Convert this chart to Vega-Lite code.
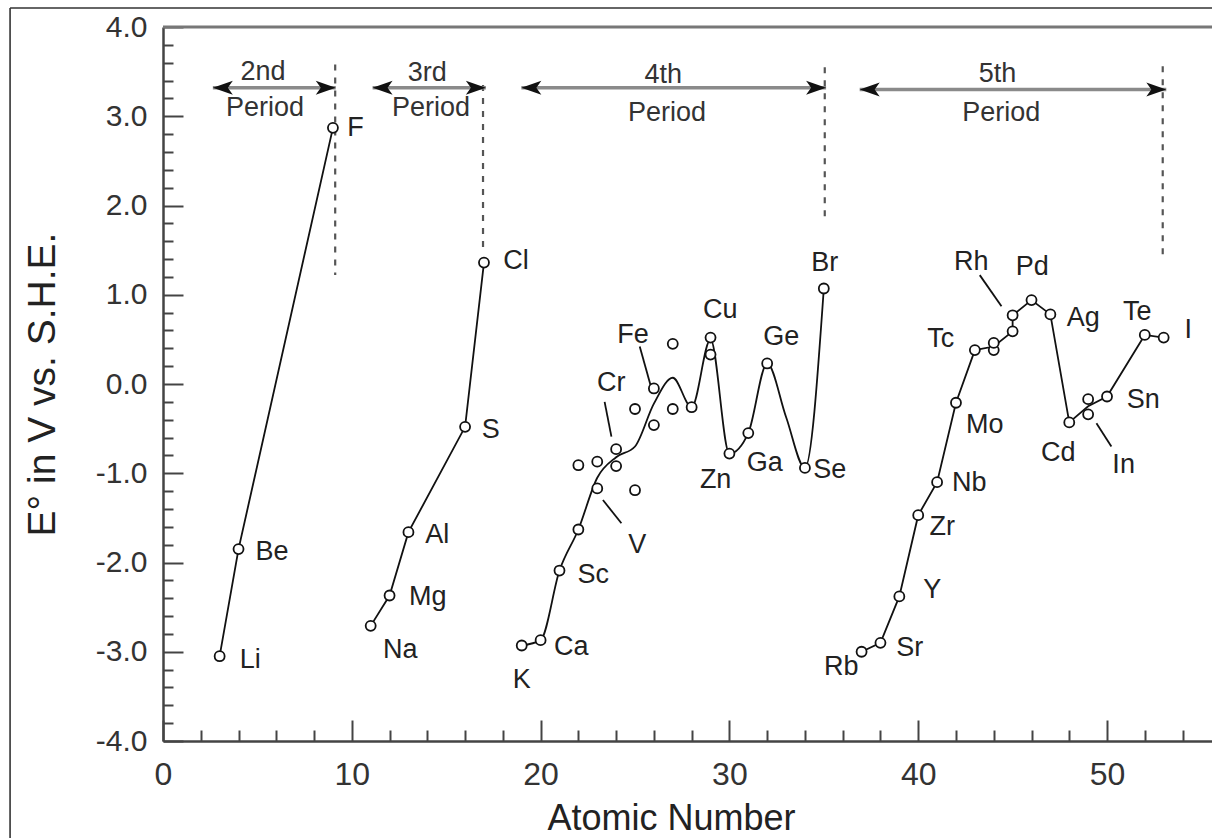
{
  "$schema": "https://vega.github.io/schema/vega-lite/v6.json",
  "width": 1049,
  "height": 714,
  "autosize": {"type": "none"},
  "padding": {"left": 163, "top": 27, "right": 0, "bottom": 97},
  "background": "white",
  "config": {
    "view": {"stroke": null},
    "font": "Liberation Sans",
    "axis": {"grid": false, "labelFont": "Liberation Sans", "titleFont": "Liberation Sans"}
  },
  "datasets": {
    "curve": [
      {"period": 2, "i": 1, "z": 3, "e": -3.05},
      {"period": 2, "i": 2, "z": 4, "e": -1.85},
      {"period": 2, "i": 3, "z": 9, "e": 2.87},
      {"period": 3, "i": 1, "z": 11, "e": -2.71},
      {"period": 3, "i": 2, "z": 12, "e": -2.37},
      {"period": 3, "i": 3, "z": 13, "e": -1.66},
      {"period": 3, "i": 4, "z": 16, "e": -0.48},
      {"period": 3, "i": 5, "z": 17, "e": 1.36},
      {"period": 4, "i": 1, "z": 19, "e": -2.93},
      {"period": 4, "i": 2, "z": 20, "e": -2.87},
      {"period": 4, "i": 3, "z": 21, "e": -2.09},
      {"period": 4, "i": 4, "z": 22, "e": -1.63},
      {"period": 4, "i": 5, "z": 23, "e": -1.05},
      {"period": 4, "i": 6, "z": 24, "e": -0.82},
      {"period": 4, "i": 7, "z": 25, "e": -0.7},
      {"period": 4, "i": 8, "z": 26, "e": -0.22},
      {"period": 4, "i": 9, "z": 27, "e": 0.07},
      {"period": 4, "i": 10, "z": 28, "e": -0.26},
      {"period": 4, "i": 11, "z": 29, "e": 0.5},
      {"period": 4, "i": 12, "z": 30, "e": -0.78},
      {"period": 4, "i": 13, "z": 31, "e": -0.55},
      {"period": 4, "i": 14, "z": 32, "e": 0.23},
      {"period": 4, "i": 15, "z": 33, "e": -0.37},
      {"period": 4, "i": 16, "z": 34, "e": -0.94},
      {"period": 4, "i": 17, "z": 35, "e": 1.07},
      {"period": 5, "i": 1, "z": 37, "e": -3.0},
      {"period": 5, "i": 2, "z": 38, "e": -2.9},
      {"period": 5, "i": 3, "z": 39, "e": -2.38},
      {"period": 5, "i": 4, "z": 40, "e": -1.47},
      {"period": 5, "i": 5, "z": 41, "e": -1.1},
      {"period": 5, "i": 6, "z": 42, "e": -0.21},
      {"period": 5, "i": 7, "z": 43, "e": 0.38},
      {"period": 5, "i": 8, "z": 44, "e": 0.42},
      {"period": 5, "i": 9, "z": 45, "e": 0.59},
      {"period": 5, "i": 10, "z": 45, "e": 0.77},
      {"period": 5, "i": 11, "z": 46, "e": 0.94},
      {"period": 5, "i": 12, "z": 47, "e": 0.78},
      {"period": 5, "i": 13, "z": 48, "e": -0.43},
      {"period": 5, "i": 14, "z": 49, "e": -0.25},
      {"period": 5, "i": 15, "z": 50, "e": -0.14},
      {"period": 5, "i": 16, "z": 52, "e": 0.55},
      {"period": 5, "i": 17, "z": 53, "e": 0.52}
    ],
    "points": [
      {"z": 3, "e": -3.05}, {"z": 4, "e": -1.85}, {"z": 9, "e": 2.87},
      {"z": 11, "e": -2.71}, {"z": 12, "e": -2.37}, {"z": 13, "e": -1.66}, {"z": 16, "e": -0.48}, {"z": 17, "e": 1.36},
      {"z": 19, "e": -2.93}, {"z": 20, "e": -2.87}, {"z": 21, "e": -2.09}, {"z": 22, "e": -1.63}, {"z": 22, "e": -0.91},
      {"z": 23, "e": -0.87}, {"z": 23, "e": -1.17}, {"z": 24, "e": -0.73}, {"z": 24, "e": -0.92},
      {"z": 25, "e": -1.19}, {"z": 25, "e": -0.28}, {"z": 26, "e": -0.46}, {"z": 26, "e": -0.05},
      {"z": 27, "e": -0.28}, {"z": 27, "e": 0.45}, {"z": 28, "e": -0.26}, {"z": 29, "e": 0.52}, {"z": 29, "e": 0.33},
      {"z": 30, "e": -0.78}, {"z": 31, "e": -0.55}, {"z": 32, "e": 0.23}, {"z": 34, "e": -0.94}, {"z": 35, "e": 1.07},
      {"z": 37, "e": -3.0}, {"z": 38, "e": -2.9}, {"z": 39, "e": -2.38}, {"z": 40, "e": -1.47}, {"z": 41, "e": -1.1},
      {"z": 42, "e": -0.21}, {"z": 43, "e": 0.38}, {"z": 44, "e": 0.38}, {"z": 44, "e": 0.46}, {"z": 45, "e": 0.59},
      {"z": 45, "e": 0.77}, {"z": 46, "e": 0.94}, {"z": 47, "e": 0.78}, {"z": 48, "e": -0.43}, {"z": 49, "e": -0.34},
      {"z": 49, "e": -0.17}, {"z": 50, "e": -0.14}, {"z": 52, "e": 0.55}, {"z": 53, "e": 0.52}
    ],
    "labels": [
      {"sym": "Li", "z": 4.62, "e": -3.09}, {"sym": "Be", "z": 5.78, "e": -1.88}, {"sym": "F", "z": 10.2, "e": 2.87},
      {"sym": "Na", "z": 12.56, "e": -2.98}, {"sym": "Mg", "z": 14.02, "e": -2.39}, {"sym": "Al", "z": 14.52, "e": -1.69},
      {"sym": "S", "z": 17.36, "e": -0.51}, {"sym": "Cl", "z": 18.7, "e": 1.38},
      {"sym": "K", "z": 19.0, "e": -3.32}, {"sym": "Ca", "z": 21.62, "e": -2.95}, {"sym": "Sc", "z": 22.79, "e": -2.14},
      {"sym": "V", "z": 25.12, "e": -1.8}, {"sym": "Cr", "z": 23.74, "e": 0.01}, {"sym": "Fe", "z": 24.9, "e": 0.55},
      {"sym": "Cu", "z": 29.51, "e": 0.83}, {"sym": "Ge", "z": 32.74, "e": 0.53}, {"sym": "Zn", "z": 29.27, "e": -1.08},
      {"sym": "Ga", "z": 31.87, "e": -0.88}, {"sym": "Se", "z": 35.31, "e": -0.96}, {"sym": "Br", "z": 35.05, "e": 1.36},
      {"sym": "Rb", "z": 35.92, "e": -3.17}, {"sym": "Sr", "z": 39.55, "e": -2.96}, {"sym": "Y", "z": 40.74, "e": -2.31},
      {"sym": "Zr", "z": 41.27, "e": -1.6}, {"sym": "Nb", "z": 42.7, "e": -1.11}, {"sym": "Mo", "z": 43.52, "e": -0.46},
      {"sym": "Tc", "z": 41.19, "e": 0.5}, {"sym": "Rh", "z": 42.81, "e": 1.37}, {"sym": "Pd", "z": 46.04, "e": 1.31},
      {"sym": "Ag", "z": 48.74, "e": 0.74}, {"sym": "Te", "z": 51.6, "e": 0.81}, {"sym": "I", "z": 54.3, "e": 0.61},
      {"sym": "Sn", "z": 51.92, "e": -0.18}, {"sym": "Cd", "z": 47.42, "e": -0.77}, {"sym": "In", "z": 50.88, "e": -0.91}
    ],
    "leaders": [
      {"z": 23.39, "e": -0.2, "z2": 23.75, "e2": -0.59},
      {"z": 25.25, "e": 0.42, "z2": 25.82, "e2": -0.01},
      {"z": 23.3, "e": -1.3, "z2": 24.28, "e2": -1.56},
      {"z": 43.26, "e": 1.22, "z2": 44.41, "e2": 0.87},
      {"z": 49.44, "e": -0.44, "z2": 50.23, "e2": -0.7}
    ],
    "bounds": [
      {"z": 9.12, "top": 3.58, "bottom": 1.22},
      {"z": 16.95, "top": 3.35, "bottom": 1.52},
      {"z": 35.05, "top": 3.55, "bottom": 1.8},
      {"z": 52.95, "top": 3.56, "bottom": 1.41}
    ],
    "arrows": [
      {"from": 2.64, "to": 9.15, "e": 3.32},
      {"from": 11.1, "to": 17.1, "e": 3.32},
      {"from": 18.98, "to": 35.12, "e": 3.32},
      {"from": 36.9, "to": 53.14, "e": 3.3}
    ],
    "heads": [
      {"z": 2.64, "e": 3.32, "dir": "left"}, {"z": 9.15, "e": 3.32, "dir": "right"},
      {"z": 11.1, "e": 3.32, "dir": "left"}, {"z": 17.1, "e": 3.32, "dir": "right"},
      {"z": 18.98, "e": 3.32, "dir": "left"}, {"z": 35.12, "e": 3.32, "dir": "right"},
      {"z": 36.9, "e": 3.3, "dir": "left"}, {"z": 53.14, "e": 3.3, "dir": "right"}
    ],
    "ptext": [
      {"t": "2nd", "z": 5.3, "e": 3.5}, {"t": "Period", "z": 5.4, "e": 3.09},
      {"t": "3rd", "z": 14.0, "e": 3.49}, {"t": "Period", "z": 14.2, "e": 3.09},
      {"t": "4th", "z": 26.5, "e": 3.46}, {"t": "Period", "z": 26.7, "e": 3.04},
      {"t": "5th", "z": 44.2, "e": 3.47}, {"t": "Period", "z": 44.4, "e": 3.04}
    ]
  },
  "layer": [
    {
      "data": {"name": "bounds"},
      "mark": {"type": "rule", "strokeDash": [6, 7], "strokeWidth": 2.2, "color": "#555"},
      "encoding": {
        "x": {"field": "z", "type": "quantitative", "scale": {"domain": [0, 55.56], "nice": false, "zero": false},
          "axis": {"orient": "bottom", "values": [2,4,6,8,12,14,16,18,22,24,26,28,32,34,36,38,42,44,46,48,52,54], "labels": false, "title": null, "tickSize": -11, "tickWidth": 2, "tickColor": "#444", "domain": true, "domainWidth": 2.5, "domainColor": "#444"}},
        "y": {"field": "top", "type": "quantitative", "scale": {"domain": [-4, 4], "nice": false, "zero": false},
          "axis": {"orient": "left", "values": [-3.8,-3.6,-3.4,-3.2,-2.8,-2.6,-2.4,-2.2,-1.8,-1.6,-1.4,-1.2,-0.8,-0.6,-0.4,-0.2,0.2,0.4,0.6,0.8,1.2,1.4,1.6,1.8,2.2,2.4,2.6,2.8,3.2,3.4,3.6,3.8], "labels": false, "title": null, "tickSize": -10, "tickWidth": 2, "tickColor": "#444", "domain": true, "domainWidth": 2.5, "domainColor": "#444"}},
        "y2": {"field": "bottom"}
      }
    },
    {
      "data": {"name": "arrows"},
      "mark": {"type": "rule", "strokeWidth": 3.5, "color": "#8a8a8a"},
      "encoding": {
        "x": {"field": "from", "type": "quantitative", "scale": {"domain": [0, 55.56], "nice": false, "zero": false},
          "axis": {"orient": "bottom", "values": [0,10,20,30,40,50], "labels": false, "title": null, "tickSize": -21, "tickWidth": 2, "tickColor": "#444", "domain": false}},
        "x2": {"field": "to"},
        "y": {"field": "e", "type": "quantitative", "scale": {"domain": [-4, 4], "nice": false, "zero": false},
          "axis": {"orient": "left", "values": [-4,-3,-2,-1,0,1,2,3,4], "labels": false, "title": null, "tickSize": -20, "tickWidth": 2, "tickColor": "#444", "domain": false}}
      }
    },
    {
      "data": {"name": "curve"},
      "transform": [{"filter": "datum.period != 4"}],
      "mark": {"type": "line", "color": "#111", "strokeWidth": 1.8},
      "encoding": {
        "x": {"field": "z", "type": "quantitative", "scale": {"domain": [0, 55.56], "nice": false, "zero": false},
          "axis": {"orient": "bottom", "values": [0,10,20,30,40,50], "ticks": false, "domain": false, "labelFontSize": 32, "labelColor": "#333", "labelPadding": 18, "labelFlush": false,
            "title": "Atomic Number", "titleFontSize": 36, "titleFontWeight": "normal", "titleColor": "#222", "titleX": 508, "titleY": 88, "titleBaseline": "alphabetic"}},
        "y": {"field": "e", "type": "quantitative", "scale": {"domain": [-4, 4], "nice": false, "zero": false},
          "axis": {"orient": "left", "values": [-4,-3,-2,-1,0,1,2,3,4], "ticks": false, "domain": false, "labelFontSize": 30, "labelColor": "#333", "labelPadding": 16, "labelFlush": false,
            "labelExpr": "(datum.value < 0 ? '-' : '') + format(abs(datum.value), '.1f')",
            "title": "E° in V vs. S.H.E.", "titleFontSize": 39, "titleFontWeight": "normal", "titleColor": "#222", "titlePadding": 33}},
        "detail": {"field": "period", "type": "nominal"},
        "order": {"field": "i", "type": "quantitative"}
      }
    },
    {
      "data": {"name": "curve"},
      "transform": [{"filter": "datum.period == 4"}],
      "mark": {"type": "line", "color": "#111", "strokeWidth": 1.8, "interpolate": "monotone"},
      "encoding": {
        "x": {"field": "z", "type": "quantitative", "scale": {"domain": [0, 55.56], "nice": false, "zero": false}, "axis": null},
        "y": {"field": "e", "type": "quantitative", "scale": {"domain": [-4, 4], "nice": false, "zero": false}, "axis": null},
        "order": {"field": "i", "type": "quantitative"}
      }
    },
    {
      "data": {"name": "leaders"},
      "mark": {"type": "rule", "color": "#111", "strokeWidth": 1.8},
      "encoding": {
        "x": {"field": "z", "type": "quantitative", "scale": {"domain": [0, 55.56], "nice": false, "zero": false}, "axis": null},
        "x2": {"field": "z2"},
        "y": {"field": "e", "type": "quantitative", "scale": {"domain": [-4, 4], "nice": false, "zero": false}, "axis": null},
        "y2": {"field": "e2"}
      }
    },
    {
      "data": {"values": [{}]},
      "mark": {"type": "rule", "color": "#777", "strokeWidth": 3},
      "encoding": {
        "x": {"datum": 0, "type": "quantitative", "scale": {"domain": [0, 55.56], "nice": false, "zero": false}, "axis": null},
        "x2": {"datum": 55.56},
        "y": {"datum": 4, "type": "quantitative", "scale": {"domain": [-4, 4], "nice": false, "zero": false}, "axis": null}
      }
    },
    {
      "data": {"values": [{}]},
      "mark": {"type": "rule", "color": "#333", "strokeWidth": 1.6, "clip": false},
      "encoding": {
        "x": {"datum": -8.1, "type": "quantitative", "scale": {"domain": [0, 55.56], "nice": false, "zero": false}, "axis": null},
        "x2": {"datum": 55.56},
        "y": {"datum": 4.213, "type": "quantitative", "scale": {"domain": [-4, 4], "nice": false, "zero": false}, "axis": null}
      }
    },
    {
      "data": {"values": [{}]},
      "mark": {"type": "rule", "color": "#333", "strokeWidth": 1.6, "clip": false},
      "encoding": {
        "x": {"datum": -8.1, "type": "quantitative", "scale": {"domain": [0, 55.56], "nice": false, "zero": false}, "axis": null},
        "y": {"datum": 4.213, "type": "quantitative", "scale": {"domain": [-4, 4], "nice": false, "zero": false}, "axis": null},
        "y2": {"datum": -5.1}
      }
    },
    {
      "data": {"name": "points"},
      "mark": {"type": "point", "shape": "circle", "filled": false, "fill": "white", "fillOpacity": 1, "stroke": "#111", "strokeWidth": 1.8, "size": 100, "opacity": 1},
      "encoding": {
        "x": {"field": "z", "type": "quantitative", "scale": {"domain": [0, 55.56], "nice": false, "zero": false}, "axis": null},
        "y": {"field": "e", "type": "quantitative", "scale": {"domain": [-4, 4], "nice": false, "zero": false}, "axis": null}
      }
    },
    {
      "data": {"name": "heads"},
      "mark": {"type": "point", "filled": true, "color": "#111", "size": 400, "opacity": 1},
      "encoding": {
        "x": {"field": "z", "type": "quantitative", "scale": {"domain": [0, 55.56], "nice": false, "zero": false}, "axis": null},
        "y": {"field": "e", "type": "quantitative", "scale": {"domain": [-4, 4], "nice": false, "zero": false}, "axis": null},
        "shape": {"field": "dir", "type": "nominal", "legend": null,
          "scale": {"domain": ["left", "right"], "range": ["M0,0L2,-0.7L1.5,0L2,0.7Z", "M0,0L-2,-0.7L-1.5,0L-2,0.7Z"]}}
      }
    },
    {
      "data": {"name": "labels"},
      "mark": {"type": "text", "fontSize": 27, "color": "#222", "align": "center", "baseline": "middle", "font": "Liberation Sans"},
      "encoding": {
        "x": {"field": "z", "type": "quantitative", "scale": {"domain": [0, 55.56], "nice": false, "zero": false}, "axis": null},
        "y": {"field": "e", "type": "quantitative", "scale": {"domain": [-4, 4], "nice": false, "zero": false}, "axis": null},
        "text": {"field": "sym", "type": "nominal"}
      }
    },
    {
      "data": {"name": "ptext"},
      "mark": {"type": "text", "fontSize": 27, "color": "#333", "align": "center", "baseline": "middle", "font": "Liberation Sans"},
      "encoding": {
        "x": {"field": "z", "type": "quantitative", "scale": {"domain": [0, 55.56], "nice": false, "zero": false}, "axis": null},
        "y": {"field": "e", "type": "quantitative", "scale": {"domain": [-4, 4], "nice": false, "zero": false}, "axis": null},
        "text": {"field": "t", "type": "nominal"}
      }
    }
  ],
  "resolve": {"axis": {"x": "independent", "y": "independent"}}
}
